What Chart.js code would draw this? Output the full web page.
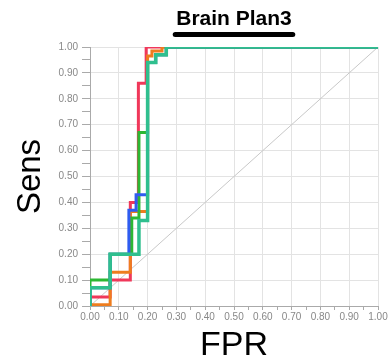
<!DOCTYPE html>
<html>
<head>
<meta charset="utf-8">
<script src="https://cdn.jsdelivr.net/npm/chart.js@4.4.1/dist/chart.umd.min.js"></script>
<style>
  html, body { margin: 0; padding: 0; background: #fff; }
  #wrap { width: 389px; height: 363px; }
</style>
</head>
<body>
<div id="wrap"><canvas id="roc"></canvas></div>
<script>
// ROC corner points (false positive rate, sensitivity) for each curve
const redFpr = [0, 0, 0.07, 0.07, 0.14, 0.14, 0.168, 0.168, 0.195, 0.195, 1.00];
const redSens = [0, 0.035, 0.035, 0.10, 0.10, 0.40, 0.40, 0.86, 0.86, 1.00, 1.00];

const orangeFpr = [0, 0.07, 0.07, 0.14, 0.14, 0.20, 0.20, 0.215, 0.215, 0.25, 0.25, 1.00];
const orangeSens = [0.005, 0.005, 0.13, 0.13, 0.365, 0.365, 0.965, 0.965, 0.985, 0.985, 1.00, 1.00];

const greenFpr = [0, 0, 0.07, 0.07, 0.145, 0.145, 0.17, 0.17, 0.20, 0.20, 0.228, 0.228, 0.265, 0.265, 1.00];
const greenSens = [0, 0.10, 0.10, 0.20, 0.20, 0.34, 0.34, 0.67, 0.67, 0.94, 0.94, 0.97, 0.97, 1.00, 1.00];

const blueFpr = [0, 0, 0.07, 0.07, 0.135, 0.135, 0.16, 0.16, 0.20, 0.20, 0.228, 0.228, 0.265, 0.265, 1.00];
const blueSens = [0, 0.07, 0.07, 0.20, 0.20, 0.37, 0.37, 0.43, 0.43, 0.94, 0.94, 0.97, 0.97, 1.00, 1.00];

const tealFpr = [0, 0, 0.07, 0.07, 0.17, 0.17, 0.20, 0.20, 0.228, 0.228, 0.265, 0.265, 1.00];
const tealSens = [0, 0.07, 0.07, 0.20, 0.20, 0.33, 0.33, 0.94, 0.94, 0.97, 0.97, 1.00, 1.00];

const chanceFpr = [0, 1];
const chanceSens = [0, 1];

const toPoints = (xs, ys) => xs.map((x, i) => ({ x: x, y: ys[i] }));
const isMajor = v => Math.round(v * 100) % 10 === 0;

const FONT = "'Liberation Sans', Arial, sans-serif";

// thick bar under the chart heading
const underline = {
  id: 'underline',
  afterDraw(chart) {
    const s = chart.scales.top;
    const t = s.options.title;
    const ctx = chart.ctx;
    ctx.save();
    ctx.font = 'bold ' + t.font.size + 'px ' + FONT;
    const w = ctx.measureText(t.text).width;
    const cx = (s.left + s.right) / 2;
    ctx.strokeStyle = '#000';
    ctx.lineWidth = 5;
    ctx.lineCap = 'round';
    ctx.beginPath();
    ctx.moveTo(cx - w / 2 - 1, 34.5);
    ctx.lineTo(cx + w / 2 + 1, 34.5);
    ctx.stroke();
    ctx.restore();
  }
};

const line = (data, color, width) => ({
  data: data,
  borderColor: color,
  borderWidth: width,
  pointRadius: 0,
  fill: false,
  tension: 0,
  borderJoinStyle: 'miter'
});

new Chart(document.getElementById('roc'), {
  type: 'line',
  data: {
    datasets: [
      line(toPoints(tealFpr, tealSens), '#2fbf8e', 3.5),
      line(toPoints(blueFpr, blueSens), '#2f5cf0', 3),
      line(toPoints(greenFpr, greenSens), '#2cb833', 3),
      line(toPoints(orangeFpr, orangeSens), '#ee7d1f', 3),
      line(toPoints(redFpr, redSens), '#f0385a', 3),
      line(toPoints(chanceFpr, chanceSens), '#c8c8c8', 1)
    ]
  },
  options: {
    responsive: true,
    maintainAspectRatio: false,
    animation: false,
    layout: { padding: { left: 0, right: 11, top: 0, bottom: 0 } },
    plugins: {
      legend: { display: false },
      tooltip: { enabled: false }
    },
    scales: {
      x: {
        type: 'linear',
        min: 0,
        max: 1,
        afterFit: s => { s.height = 57; },
        ticks: {
          stepSize: 0.05,
          autoSkip: false,
          maxRotation: 0,
          minRotation: 0,
          padding: 1,
          color: '#888',
          font: { family: FONT, size: 10 },
          callback: v => isMajor(v) ? v.toFixed(2) : ''
        },
        grid: {
          color: c => isMajor(c.tick.value) ? '#e3e3e3' : 'rgba(0,0,0,0)',
          tickColor: '#aaa',
          tickLength: 4
        },
        border: { color: '#aaa' },
        title: {
          display: true,
          text: 'FPR',
          color: '#000',
          padding: 0,
          font: { family: FONT, size: 34, lineHeight: 1 }
        }
      },
      top: {
        type: 'linear',
        position: 'top',
        min: 0,
        max: 1,
        afterFit: s => { s.height = 47; },
        ticks: { display: false },
        grid: { display: false },
        border: { display: false },
        title: {
          display: true,
          text: 'Brain Plan3',
          color: '#000',
          padding: { top: 9, bottom: 0 },
          font: { family: FONT, size: 21, weight: 'bold', lineHeight: 1 }
        }
      },
      y: {
        type: 'linear',
        min: 0,
        max: 1,
        afterFit: s => { s.width = 90; },
        ticks: {
          stepSize: 0.05,
          autoSkip: false,
          padding: 4,
          color: '#888',
          font: { family: FONT, size: 10 },
          callback: v => isMajor(v) ? v.toFixed(2) : ''
        },
        grid: {
          color: c => isMajor(c.tick.value) ? '#e3e3e3' : 'rgba(0,0,0,0)',
          tickColor: '#aaa',
          tickLength: 8
        },
        border: { color: '#aaa' },
        title: {
          display: true,
          text: 'Sens',
          color: '#000',
          padding: 14,
          font: { family: FONT, size: 33, lineHeight: 1 }
        }
      }
    }
  },
  plugins: [underline]
});
</script>
</body>
</html>
